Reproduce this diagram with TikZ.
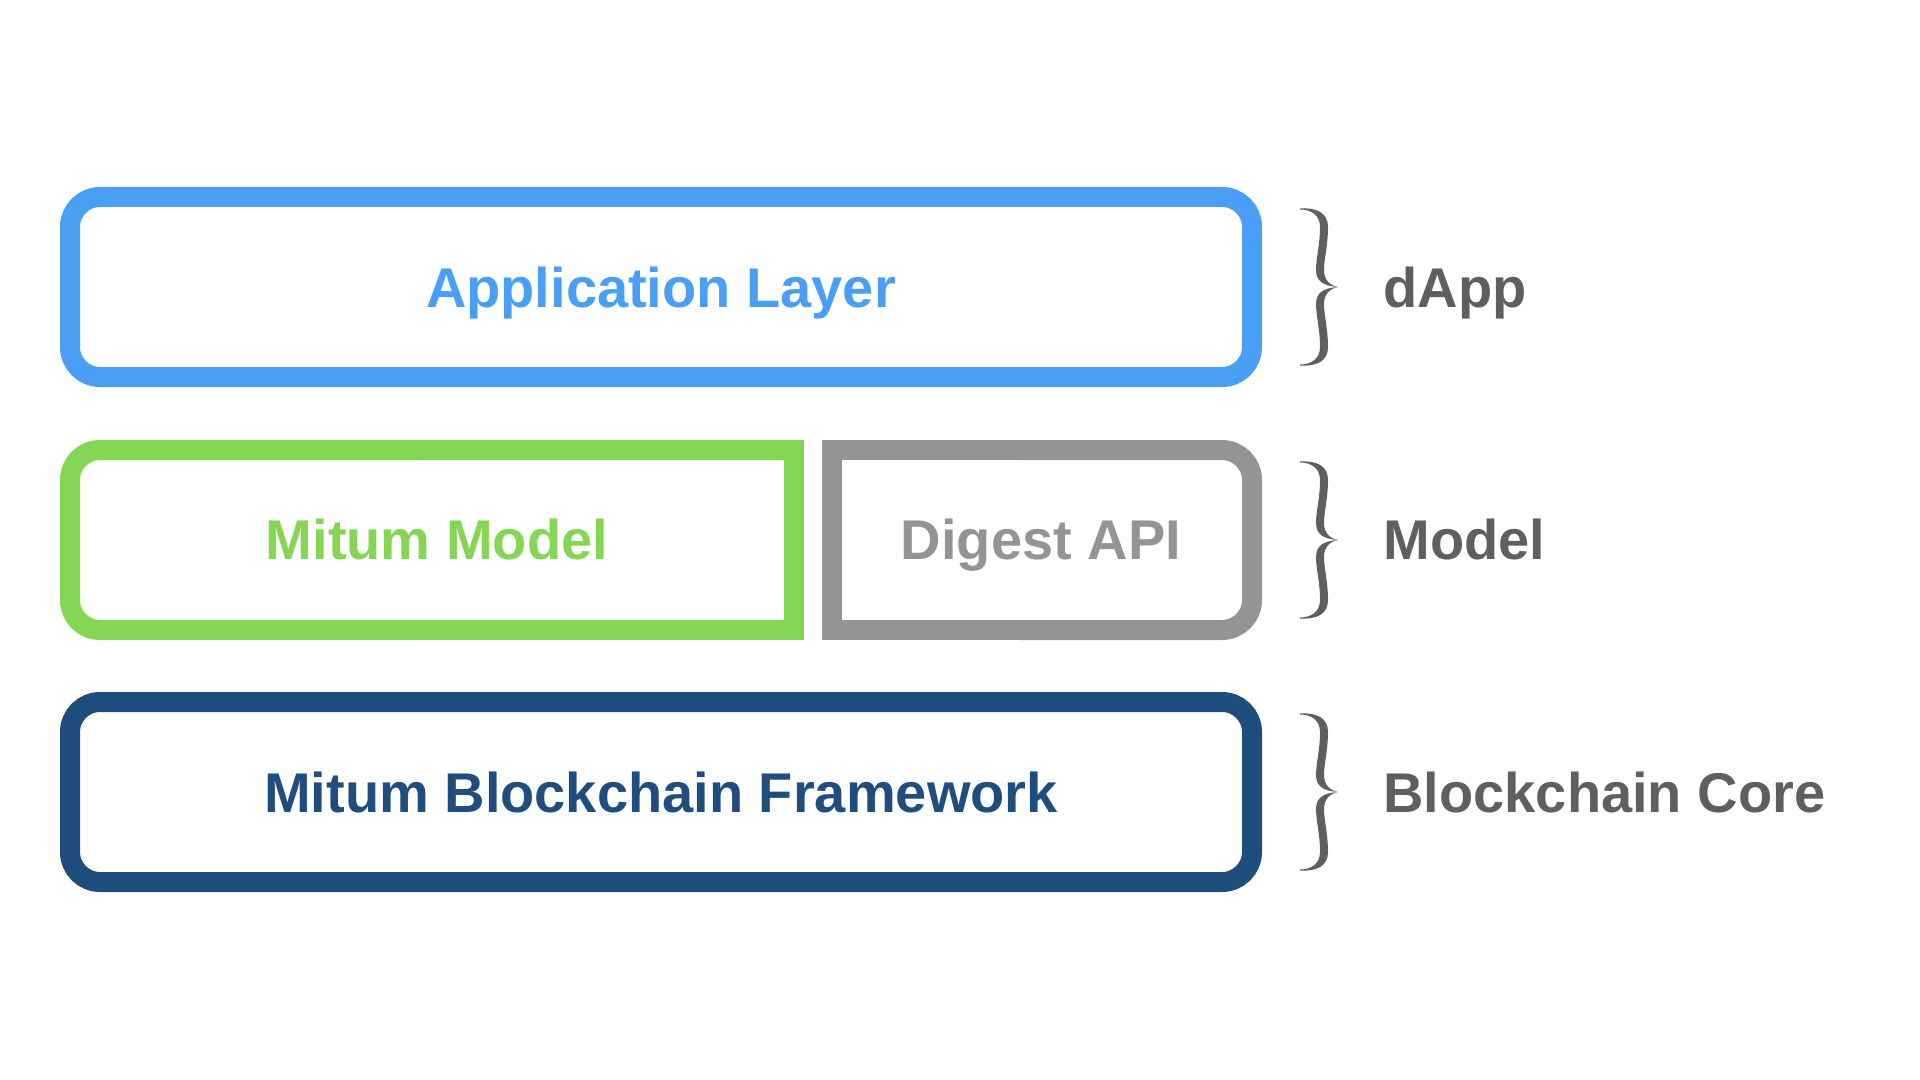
\documentclass[tikz,border=0pt]{standalone}
\usepackage{fontspec}
\setmainfont{Liberation Sans}
\usepackage{xcolor}
\usepackage{tikz}

\definecolor{applayer}{HTML}{4A9FF5}
\definecolor{mitumgreen}{HTML}{84D654}
\definecolor{digestgray}{HTML}{949494}
\definecolor{corenavy}{HTML}{1F4D7D}
\definecolor{sidegray}{HTML}{5F5F5F}

\tikzset{
  layer/.style={line width=10pt, rounded corners=15pt},
  halflayer/.style={line width=10pt, sharp corners},
  layertext/.style={font=\bfseries\fontsize{28}{34}\selectfont, anchor=base, inner sep=0pt},
  sidetext/.style={font=\bfseries\fontsize{28}{34}\selectfont, text=sidegray, anchor=base west, inner sep=0pt}
}

\begin{document}
\begin{tikzpicture}[x=0.5pt,y=-0.5pt]
        \useasboundingbox (0,0) rectangle (1920,1080);
        % application layer
        \draw[layer,applayer] (70,197) rectangle (1252,377);
        \node[layertext,text=applayer] (app) at (661,307) {Application Layer};
        % model row: rounded only on the outer side
        \draw[layer,mitumgreen] (420,450) -- (70,450) -- (70,630) -- (420,630);
        \draw[halflayer,mitumgreen] (400,450) -- (794,450) -- (794,630) -- (400,630);
        \node[layertext,text=mitumgreen] (model) at (437,559) {Mitum Model};
        \draw[layer,digestgray] (1020,450) -- (1252,450) -- (1252,630) -- (1020,630);
        \draw[halflayer,digestgray] (1040,450) -- (832,450) -- (832,630) -- (1040,630);
        \node[layertext,text=digestgray] (digest) at (1041,559) {Digest API};
        % blockchain core
        \draw[layer,corenavy] (70,702) rectangle (1252,882);
        \node[layertext,text=corenavy] (core) at (661,812) {Mitum Blockchain Framework};
        % braces and side labels
        \foreach \yc/\yb/\lab [count=\i] in {287/307/dApp, 540/559/Model, 792/812/Blockchain Core} {
            \fill[sidegray, shift={(1300,\yc)}] (0,-78.5)
                .. controls (17,-79.5) and (28,-74) .. (28,-60)
                .. controls (28,-42) and (24,-28) .. (24,-17)
                .. controls (24,-7) and (30,-1.5) .. (38,0)
                .. controls (30,1.5) and (24,7) .. (24,17)
                .. controls (24,28) and (28,42) .. (28,60)
                .. controls (28,74) and (17,79.5) .. (0,78.5)
                -- (0,77.5)
                .. controls (11,77.5) and (20,72) .. (20,60)
                .. controls (20,42) and (16,29) .. (16,17)
                .. controls (16,6) and (23,1) .. (38,0)
                .. controls (23,-1) and (16,-6) .. (16,-17)
                .. controls (16,-29) and (20,-42) .. (20,-60)
                .. controls (20,-72) and (11,-77.5) .. (0,-77.5) -- cycle;
            \node[sidetext] (side\i) at (1383,\yb) {\lab};
        }
    \end{tikzpicture}
\end{document}
